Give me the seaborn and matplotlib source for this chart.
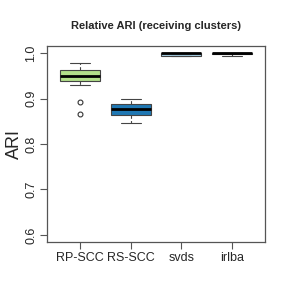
import numpy as np
import pandas as pd
import matplotlib
matplotlib.use("Agg")
import matplotlib.pyplot as plt
import seaborn as sns

# ---- data (five-number summaries + outliers) ----
methods = ["RP-SCC", "RS-SCC", "svds", "irlba"]
lower_whisker = [0.930, 0.846, 0.993, 0.994]
q1 = [0.9375, 0.863, 0.994, 0.997]
median = [0.9486, 0.877, 0.999, 0.9995]
q3 = [0.962, 0.889, 0.9995, 1.000]
upper_whisker = [0.9786, 0.899, 1.000, 1.000]
outliers = [[0.892, 0.865], [], [], []]
colors = ["#b2df8a", "#1f78b4", "#a6cee3", "#33a02c"]

title = "Relative ARI (receiving clusters)"
ylabel = "ARI"
yticks = [0.6, 0.7, 0.8, 0.9, 1.0]
ytick_labels = ["0.6", "0.7", "0.8", "0.9", "1.0"]

# build an observation table that reproduces each summary
K = 20
rows = []
for i, m in enumerate(methods):
    vals = ([lower_whisker[i]] + [q1[i]] * K + [median[i]] * K +
            [q3[i]] * K + [upper_whisker[i]] + list(outliers[i]))
    rows += [(m, v) for v in vals]
df = pd.DataFrame(rows, columns=["method", "ARI"])

sns.set_style("white")
plt.rcParams["font.family"] = ["Liberation Sans", "DejaVu Sans"]

fig = plt.figure(figsize=(2.89, 3.0), dpi=100)
ax = fig.add_axes([0.1626, 0.1933, 0.917 - 0.1626, 0.8467 - 0.1933])

sns.boxplot(data=df, x="method", y="ARI", hue="method", order=methods,
            palette=dict(zip(methods, colors)), legend=False, ax=ax,
            saturation=1, width=0.8, linecolor="#444444", linewidth=0.8,
            whis=1.5,
            medianprops=dict(color="black", linewidth=2.0),
            whiskerprops=dict(linestyle=(0, (3, 2)), color="#444444"),
            capprops=dict(color="#444444"),
            flierprops=dict(marker="o", markersize=3.5, markerfacecolor="none",
                            markeredgecolor="#333333", markeredgewidth=0.8))

ax.set_xlim(-0.66, 3.66)
ax.set_ylim(0.5845, 1.0155)
ax.set_yticks(yticks)
ax.set_yticklabels(ytick_labels, rotation=90, va="center", fontsize=9)
ax.set_xticks(range(len(methods)))
ax.set_xticklabels(methods, fontsize=9)
ax.set_xlabel("")
ax.set_ylabel(ylabel, fontsize=13, labelpad=2)
ax.set_title(title, fontsize=8, fontweight="bold", pad=12)

for s in ax.spines.values():
    s.set_visible(True)
    s.set_color("#555555")
    s.set_linewidth(0.9)
ax.tick_params(axis="both", which="both", direction="out", length=5,
               width=0.8, color="#555555", left=True, bottom=True, pad=2)

fig.savefig("out.png", dpi=100, facecolor="white")
